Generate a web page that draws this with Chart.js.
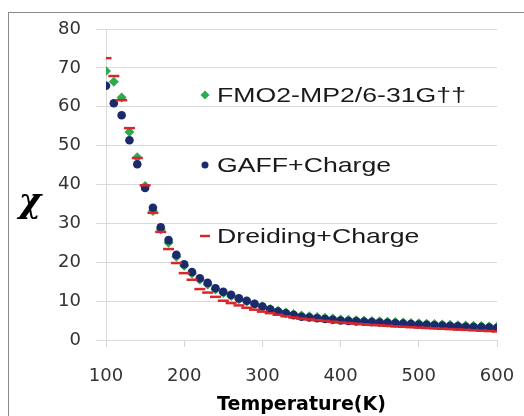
<!DOCTYPE html>
<html>
<head>
<meta charset="utf-8">
<script src="https://cdn.jsdelivr.net/npm/chart.js@4.4.0/dist/chart.umd.min.js"></script>
<style>
    body { margin: 0; background: #fff; overflow: hidden; }
    #frame { position: absolute; left: 8px; top: 12px; width: 540px; height: 440px; border: 1px solid #8a8a8a; }
    #chart { position: absolute; left: 0; top: 0; }
</style>
</head>
<body>
<div id="frame"></div>
<canvas id="chart" width="524" height="416"></canvas>
<script>
// Temperature (K)
const temperature = [100, 110, 120, 130, 140, 150, 160, 170, 180, 190, 200, 210, 220, 230, 240, 250, 260, 270, 280, 290, 300,
    310, 320, 330, 340, 350, 360, 370, 380, 390, 400, 410, 420, 430, 440, 450, 460, 470, 480, 490, 500,
    510, 520, 530, 540, 550, 560, 570, 580, 590, 600];

// chi values
const fmoValues = [69.2, 66.4, 62.4, 53.5, 47.0, 39.6, 33.2, 28.4, 25.0, 21.4, 19.1, 17.1, 15.5, 14.3, 13.0, 12.1, 11.3, 10.5, 9.9, 9.2, 8.6,
    8.0, 7.5, 7.1, 6.7, 6.3, 6.1, 5.9, 5.7, 5.5, 5.3, 5.2, 5.1, 5.0, 4.9, 4.8, 4.7, 4.6, 4.5, 4.4, 4.3,
    4.2, 4.1, 4.0, 3.9, 3.8, 3.7, 3.65, 3.6, 3.5, 3.4];
const gaffValues = [65.4, 60.9, 57.8, 51.4, 45.2, 39.1, 34.0, 29.0, 25.7, 21.9, 19.5, 17.5, 15.9, 14.7, 13.3, 12.4, 11.6, 10.7, 10.1, 9.3, 8.6,
    7.9, 7.3, 6.9, 6.4, 6.0, 5.8, 5.6, 5.4, 5.2, 5.0, 4.9, 4.8, 4.7, 4.6, 4.5, 4.4, 4.3, 4.2, 4.1, 4.0,
    3.9, 3.8, 3.7, 3.6, 3.5, 3.4, 3.35, 3.3, 3.2, 3.1];
const dreidingValues = [72.5, 67.9, 61.7, 54.5, 46.8, 39.8, 32.7, 27.8, 23.4, 19.8, 17.2, 15.5, 13.1, 12.2, 11.1, 10.1, 9.5, 8.9, 8.3, 7.8, 7.3,
    6.9, 6.5, 6.1, 5.8, 5.5, 5.3, 5.1, 4.9, 4.7, 4.5, 4.35, 4.2, 4.05, 3.9, 3.8, 3.65, 3.5, 3.4, 3.3, 3.2,
    3.1, 3.0, 2.9, 2.8, 2.7, 2.6, 2.5, 2.4, 2.3, 2.2];

const seriesNames = ['FMO2-MP2/6-31G\u2020\u2020', 'GAFF+Charge', 'Dreiding+Charge'];
const seriesColors = ['#2eaa4f', '#1b2a6b', '#d8262a'];

function toPoints(values) {
    return values.map((v, i) => ({ x: temperature[i], y: v }));
}

// legend and chi label drawn inside the plot, like the original
const overlayPlugin = {
    id: 'overlay',
    afterDraw(chart) {
        const ctx = chart.ctx;
        const area = chart.chartArea;
        const rows = [area.top + 66, area.top + 136, area.top + 207];
        const markX = area.left + 99;
        const textX = area.left + 111;

        ctx.save();
        rows.forEach((y, i) => {
            ctx.fillStyle = seriesColors[i];
            ctx.strokeStyle = seriesColors[i];
            if (i === 0) {
                ctx.beginPath();
                ctx.moveTo(markX, y - 4.5);
                ctx.lineTo(markX + 4.5, y);
                ctx.lineTo(markX, y + 4.5);
                ctx.lineTo(markX - 4.5, y);
                ctx.closePath();
                ctx.fill();
            } else if (i === 1) {
                ctx.beginPath();
                ctx.arc(markX, y, 3.5, 0, Math.PI * 2);
                ctx.fill();
            } else {
                ctx.lineWidth = 2.5;
                ctx.beginPath();
                ctx.moveTo(markX - 5, y);
                ctx.lineTo(markX + 5, y);
                ctx.stroke();
            }
            ctx.save();
            ctx.translate(textX, y);
            ctx.scale(1.27, 1);
            ctx.fillStyle = '#1a1a1a';
            ctx.font = '21px "Liberation Sans", Arial, sans-serif';
            ctx.textBaseline = 'middle';
            ctx.textAlign = 'left';
            ctx.fillText(seriesNames[i], 0, 1);
            ctx.restore();
        });

        // y axis symbol
        ctx.fillStyle = '#000';
        ctx.font = 'italic bold 34px "DejaVu Serif", serif';
        ctx.textAlign = 'center';
        ctx.textBaseline = 'middle';
        ctx.fillText('\u03c7', 30, 203);
        ctx.restore();
    }
};

const ctx = document.getElementById('chart').getContext('2d');
new Chart(ctx, {
    type: 'scatter',
    data: {
        datasets: [
            {
                label: seriesNames[0],
                data: toPoints(fmoValues),
                pointStyle: 'rectRot',
                pointRadius: 5,
                backgroundColor: seriesColors[0],
                borderColor: seriesColors[0],
                borderWidth: 0,
                order: 3
            },
            {
                label: seriesNames[1],
                data: toPoints(gaffValues),
                pointStyle: 'circle',
                pointRadius: 4.3,
                backgroundColor: seriesColors[1],
                borderColor: seriesColors[1],
                borderWidth: 0,
                order: 2
            },
            {
                label: seriesNames[2],
                data: toPoints(dreidingValues),
                pointStyle: 'line',
                pointRadius: 5.5,
                backgroundColor: seriesColors[2],
                borderColor: seriesColors[2],
                borderWidth: 2.5,
                order: 1
            }
        ]
    },
    options: {
        responsive: false,
        animation: false,
        layout: { padding: { left: 0, top: 29, right: 27, bottom: 0 } },
        plugins: {
            legend: { display: false },
            tooltip: { enabled: false }
        },
        scales: {
            x: {
                type: 'linear',
                min: 100,
                max: 600,
                afterFit(scale) { scale.height = 76; },
                ticks: {
                    stepSize: 100,
                    color: '#333',
                    padding: 6,
                    // tall line box pushes the labels down without widening the side padding
                    font: { family: '"DejaVu Sans", sans-serif', size: 18, lineHeight: 2.55 }
                },
                grid: {
                    drawOnChartArea: false,
                    tickLength: 7,
                    color: '#d4d4d4'
                },
                border: { display: false },
                title: {
                    display: true,
                    text: 'Temperature(K)',
                    color: '#000',
                    padding: { top: 0, bottom: 0 },
                    font: { family: '"DejaVu Sans", sans-serif', size: 19, weight: 'bold' }
                }
            },
            y: {
                min: 0,
                max: 80,
                afterFit(scale) { scale.width = 106; },
                ticks: {
                    stepSize: 10,
                    color: '#333',
                    padding: 15,
                    font: { family: '"DejaVu Sans", sans-serif', size: 18 }
                },
                grid: {
                    color: '#d9d9d9',
                    tickLength: 10
                },
                border: { display: true, color: '#d9d9d9' }
            }
        }
    },
    plugins: [overlayPlugin]
});
</script>
</body>
</html>
